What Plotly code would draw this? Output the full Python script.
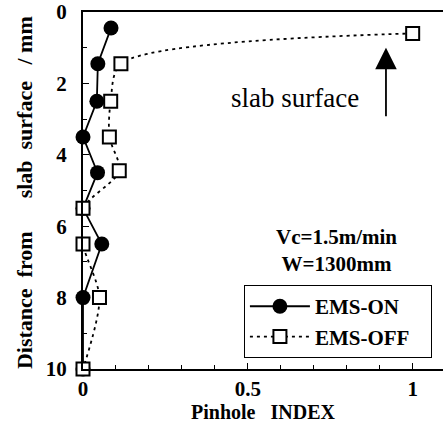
import plotly.graph_objects as go

# Data
depth_on = [0.45, 1.45, 2.5, 3.5, 4.5, 5.5, 6.5, 8.0, 10.0]
index_on = [0.085, 0.045, 0.042, 0.0, 0.044, 0.0, 0.057, 0.0, 0.0]
depth_off = [0.6, 1.45, 2.5, 3.5, 4.45, 5.5, 6.5, 8.0, 10.0]
index_off = [1.0, 0.115, 0.084, 0.08, 0.11, 0.0, 0.0, 0.05, 0.0]

y_ticks = [0, 2, 4, 6, 8, 10]
x_ticks = [0, 0.5, 1]
x_ticklabels = ["0", "0.5", "1"]

FONT = "Liberation Serif"
NB = "\u00a0"

fig = go.Figure()
fig.add_trace(go.Scatter(
    x=index_on, y=depth_on, mode="lines+markers", name="EMS-ON" + NB * 2,
    line=dict(color="black", width=1.8),
    marker=dict(symbol="circle", size=15, color="black"),
    cliponaxis=False,
))
fig.add_trace(go.Scatter(
    x=index_off, y=depth_off, mode="lines+markers", name="EMS-OFF" + NB * 3,
    line=dict(color="black", width=1.8, dash="3px,4px", shape="spline", smoothing=0.8),
    marker=dict(symbol="square", size=13, color="white", line=dict(color="black", width=2)),
    cliponaxis=False,
))

fig.update_layout(
    width=443, height=429,
    margin=dict(l=83, r=0, t=12, b=60),
    paper_bgcolor="white", plot_bgcolor="white",
    showlegend=True,
    legend=dict(
        x=0.447, y=0.235, xanchor="left", yanchor="top",
        bordercolor="black", borderwidth=1, bgcolor="white",
        font=dict(family=FONT, size=21, color="black", weight="bold"),
        itemwidth=60, tracegroupgap=0,
    ),
    xaxis=dict(
        range=[0, 1.092], tickvals=x_ticks, ticktext=x_ticklabels,
        ticks="inside", ticklen=6, tickwidth=1, tickcolor="black",
        minor=dict(dtick=0.1, tick0=0, ticks="inside", ticklen=4, tickcolor="black"),
        showline=True, linecolor="black", linewidth=2, mirror=True,
        showgrid=False, zeroline=False,
        tickfont=dict(family=FONT, size=21, color="black", weight="bold"),
        title=dict(text="Pinhole" + NB * 3 + "INDEX",
                   font=dict(family=FONT, size=20, color="black", weight="bold"),
                   standoff=4),
    ),
    yaxis=dict(
        range=[10, 0], tickvals=y_ticks,
        ticks="inside", ticklen=6, tickwidth=1, tickcolor="black",
        minor=dict(dtick=1, tick0=0, ticks="inside", ticklen=4, tickcolor="black"),
        showline=True, linecolor="black", linewidth=2, mirror=False,
        showgrid=False, zeroline=False, ticklabelstandoff=10,
        tickfont=dict(family=FONT, size=21, color="black", weight="bold"),
    ),
)

ytitle = ("Distance" + NB * 2 + "from" + NB * 6 + "slab" + NB * 2 + "surface"
          + NB * 3 + "/" + NB + "mm")
fig.add_annotation(
    text=ytitle, textangle=-90, xref="paper", yref="paper",
    x=-0.161, y=0.493, xanchor="center", yanchor="middle", showarrow=False,
    font=dict(family=FONT, size=22, color="black", weight="bold"),
)
fig.add_annotation(
    text="Vc=1.5m/min<br>W=1300mm", xref="x", yref="y",
    x=0.77, y=6.68, showarrow=False, align="center",
    font=dict(family=FONT, size=21, color="black", weight="bold"),
)
fig.add_annotation(
    text="slab surface", xref="x", yref="y",
    x=0.643, y=2.4, showarrow=False,
    font=dict(family=FONT, size=27, color="black"),
)
fig.add_annotation(
    text="", xref="x", yref="y", x=0.919, y=1.0,
    showarrow=True, ax=0, ay=70, arrowhead=2, arrowsize=2.4, arrowwidth=1.8,
    arrowcolor="black",
)

fig.write_html("out.html")
